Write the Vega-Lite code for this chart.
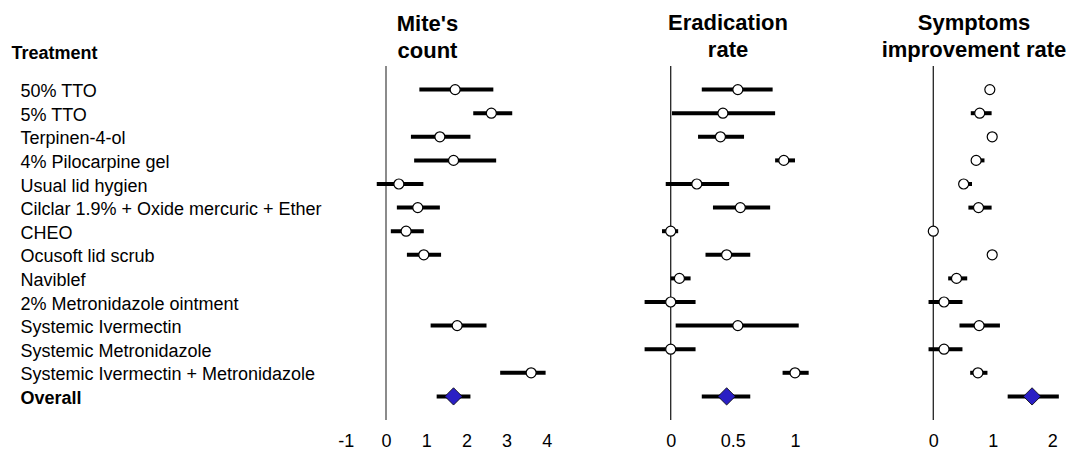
{
  "$schema": "https://vega.github.io/schema/vega-lite/v6.json",
  "padding": {"left": 11, "top": 11, "right": 0, "bottom": 0},
  "bounds": "flush",
  "spacing": 0,
  "config": {
    "font": "Liberation Sans",
    "view": {"stroke": null},
    "title": {"fontSize": 22, "fontWeight": "bold", "color": "black", "lineHeight": 27.4, "baseline": "alphabetic", "offset": 3.3, "anchor": "middle", "frame": "group"}
  },
  "data": {"values": [
    {"t": "50% TTO", "m": 1.72, "mlo": 0.83, "mhi": 2.67, "e": 0.54, "elo": 0.25, "ehi": 0.82, "s": 0.95, "slo": 0.9, "shi": 1.0},
    {"t": "5% TTO", "m": 2.62, "mlo": 2.17, "mhi": 3.14, "e": 0.42, "elo": 0.01, "ehi": 0.84, "s": 0.78, "slo": 0.63, "shi": 0.98},
    {"t": "Terpinen-4-ol", "m": 1.34, "mlo": 0.62, "mhi": 2.10, "e": 0.40, "elo": 0.22, "ehi": 0.59, "s": 0.99, "slo": 0.95, "shi": 1.0},
    {"t": "4% Pilocarpine gel", "m": 1.68, "mlo": 0.70, "mhi": 2.74, "e": 0.91, "elo": 0.84, "ehi": 1.0, "s": 0.72, "slo": 0.67, "shi": 0.86},
    {"t": "Usual lid hygien", "m": 0.32, "mlo": -0.23, "mhi": 0.93, "e": 0.21, "elo": -0.04, "ehi": 0.47, "s": 0.51, "slo": 0.45, "shi": 0.65},
    {"t": "Cilclar 1.9% + Oxide mercuric + Ether", "m": 0.79, "mlo": 0.27, "mhi": 1.34, "e": 0.56, "elo": 0.34, "ehi": 0.80, "s": 0.76, "slo": 0.59, "shi": 0.98},
    {"t": "CHEO", "m": 0.50, "mlo": 0.12, "mhi": 0.94, "e": 0.0, "elo": -0.07, "ehi": 0.06, "s": 0.0, "slo": 0.0, "shi": 0.0},
    {"t": "Ocusoft lid scrub", "m": 0.94, "mlo": 0.52, "mhi": 1.37, "e": 0.45, "elo": 0.28, "ehi": 0.64, "s": 0.99, "slo": 0.95, "shi": 1.0},
    {"t": "Naviblef", "m": null, "mlo": null, "mhi": null, "e": 0.07, "elo": 0.0, "ehi": 0.16, "s": 0.39, "slo": 0.25, "shi": 0.57},
    {"t": "2% Metronidazole ointment", "m": null, "mlo": null, "mhi": null, "e": 0.0, "elo": -0.21, "ehi": 0.20, "s": 0.18, "slo": -0.08, "shi": 0.49},
    {"t": "Systemic Ivermectin", "m": 1.77, "mlo": 1.11, "mhi": 2.50, "e": 0.54, "elo": 0.04, "ehi": 1.03, "s": 0.77, "slo": 0.44, "shi": 1.12},
    {"t": "Systemic Metronidazole", "m": null, "mlo": null, "mhi": null, "e": 0.0, "elo": -0.21, "ehi": 0.20, "s": 0.18, "slo": -0.08, "shi": 0.49},
    {"t": "Systemic Ivermectin + Metronidazole", "m": 3.61, "mlo": 2.84, "mhi": 3.97, "e": 1.0, "elo": 0.90, "ehi": 1.11, "s": 0.75, "slo": 0.62, "shi": 0.91},
    {"t": "Overall", "m": 1.68, "mlo": 1.26, "mhi": 2.10, "e": 0.45, "elo": 0.25, "ehi": 0.64, "s": 1.66, "slo": 1.25, "shi": 2.11}
  ]},
  "hconcat": [
    {
      "width": 262, "height": 354,
      "title": {"text": ["Mite's", "count"], "dx": -41.5, "offset": -18.7},
      "layer": [
        {
          "data": {"values": [{"ref": 0}]},
          "mark": {"type": "rule", "color": "#6e6e6e", "strokeWidth": 1.6},
          "encoding": {
            "x": {"field": "ref", "type": "quantitative",
              "scale": {"domain": [-1.194, 5.323], "nice": false, "zero": false},
              "axis": {"values": [-1, 0, 1, 2, 3, 4], "labelExpr": "'' + datum.value", "title": null, "domain": false, "ticks": false, "grid": false, "labelFontSize": 18, "labelColor": "black", "labelPadding": 21, "labelBaseline": "middle", "labelFlush": false, "labelOverlap": false}}
          }
        },
        {
          "transform": [{"filter": "isValid(datum.mlo)"}],
          "mark": {"type": "rule", "color": "black", "strokeWidth": 4},
          "encoding": {
            "x": {"field": "mlo", "type": "quantitative"},
            "x2": {"field": "mhi"},
            "y": {"field": "t", "type": "nominal",
              "scale": {"type": "point", "padding": 1, "domain": ["50% TTO", "5% TTO", "Terpinen-4-ol", "4% Pilocarpine gel", "Usual lid hygien", "Cilclar 1.9% + Oxide mercuric + Ether", "CHEO", "Ocusoft lid scrub", "Naviblef", "2% Metronidazole ointment", "Systemic Ivermectin", "Systemic Metronidazole", "Systemic Ivermectin + Metronidazole", "Overall"]},
              "axis": {"title": "Treatment", "titleAngle": 0, "titleX": -327, "titleY": -7.7, "titleAlign": "left", "titleBaseline": "alphabetic", "titleFontSize": 18, "titleFontWeight": "bold", "titleColor": "black",
                "labelAlign": "left", "labelPadding": 318, "labelFontSize": 18, "labelColor": "black", "labelBaseline": "middle", "labelOffset": 2, "labelLimit": 0,
                "labelFontWeight": {"condition": {"test": "datum.value === 'Overall'", "value": "bold"}, "value": "normal"},
                "ticks": false, "domain": false, "grid": false}}
          }
        },
        {
          "transform": [{"filter": "isValid(datum.m) && datum.t !== 'Overall'"}],
          "mark": {"type": "point", "shape": "circle", "filled": true, "fill": "white", "stroke": "black", "strokeWidth": 1.2, "size": 100, "opacity": 1},
          "encoding": {
            "x": {"field": "m", "type": "quantitative"},
            "y": {"field": "t", "type": "nominal", "scale": {"type": "point", "padding": 1, "domain": ["50% TTO", "5% TTO", "Terpinen-4-ol", "4% Pilocarpine gel", "Usual lid hygien", "Cilclar 1.9% + Oxide mercuric + Ether", "CHEO", "Ocusoft lid scrub", "Naviblef", "2% Metronidazole ointment", "Systemic Ivermectin", "Systemic Metronidazole", "Systemic Ivermectin + Metronidazole", "Overall"]}}
          }
        },
        {
          "transform": [{"filter": "datum.t === 'Overall'"}],
          "mark": {"type": "point", "shape": "diamond", "filled": true, "fill": "#2a1fc4", "stroke": "black", "strokeWidth": 0.8, "size": 300, "opacity": 1},
          "encoding": {
            "x": {"field": "m", "type": "quantitative"},
            "y": {"field": "t", "type": "nominal", "scale": {"type": "point", "padding": 1, "domain": ["50% TTO", "5% TTO", "Terpinen-4-ol", "4% Pilocarpine gel", "Usual lid hygien", "Cilclar 1.9% + Oxide mercuric + Ether", "CHEO", "Ocusoft lid scrub", "Naviblef", "2% Metronidazole ointment", "Systemic Ivermectin", "Systemic Metronidazole", "Systemic Ivermectin + Metronidazole", "Overall"]}}
          }
        }
      ]
    },
    {
      "width": 260, "height": 354,
      "title": {"text": ["Eradication", "rate"], "dx": -2},
      "layer": [
        {
          "data": {"values": [{"ref": 0}]},
          "mark": {"type": "rule", "color": "#222222", "strokeWidth": 1.3},
          "encoding": {
            "x": {"field": "ref", "type": "quantitative",
              "scale": {"domain": [-0.5688, 1.5229], "nice": false, "zero": false},
              "axis": {"values": [0, 0.5, 1], "labelExpr": "'' + datum.value", "title": null, "domain": false, "ticks": false, "grid": false, "labelFontSize": 18, "labelColor": "black", "labelPadding": 21, "labelBaseline": "middle", "labelFlush": false, "labelOverlap": false}}
          }
        },
        {
          "mark": {"type": "rule", "color": "black", "strokeWidth": 4},
          "encoding": {
            "x": {"field": "elo", "type": "quantitative"},
            "x2": {"field": "ehi"},
            "y": {"field": "t", "type": "nominal", "axis": null, "scale": {"type": "point", "padding": 1, "domain": ["50% TTO", "5% TTO", "Terpinen-4-ol", "4% Pilocarpine gel", "Usual lid hygien", "Cilclar 1.9% + Oxide mercuric + Ether", "CHEO", "Ocusoft lid scrub", "Naviblef", "2% Metronidazole ointment", "Systemic Ivermectin", "Systemic Metronidazole", "Systemic Ivermectin + Metronidazole", "Overall"]}}
          }
        },
        {
          "transform": [{"filter": "datum.t !== 'Overall'"}],
          "mark": {"type": "point", "shape": "circle", "filled": true, "fill": "white", "stroke": "black", "strokeWidth": 1.2, "size": 100, "opacity": 1},
          "encoding": {
            "x": {"field": "e", "type": "quantitative"},
            "y": {"field": "t", "type": "nominal", "axis": null, "scale": {"type": "point", "padding": 1, "domain": ["50% TTO", "5% TTO", "Terpinen-4-ol", "4% Pilocarpine gel", "Usual lid hygien", "Cilclar 1.9% + Oxide mercuric + Ether", "CHEO", "Ocusoft lid scrub", "Naviblef", "2% Metronidazole ointment", "Systemic Ivermectin", "Systemic Metronidazole", "Systemic Ivermectin + Metronidazole", "Overall"]}}
          }
        },
        {
          "transform": [{"filter": "datum.t === 'Overall'"}],
          "mark": {"type": "point", "shape": "diamond", "filled": true, "fill": "#2a1fc4", "stroke": "black", "strokeWidth": 0.8, "size": 300, "opacity": 1},
          "encoding": {
            "x": {"field": "e", "type": "quantitative"},
            "y": {"field": "t", "type": "nominal", "axis": null, "scale": {"type": "point", "padding": 1, "domain": ["50% TTO", "5% TTO", "Terpinen-4-ol", "4% Pilocarpine gel", "Usual lid hygien", "Cilclar 1.9% + Oxide mercuric + Ether", "CHEO", "Ocusoft lid scrub", "Naviblef", "2% Metronidazole ointment", "Systemic Ivermectin", "Systemic Metronidazole", "Systemic Ivermectin + Metronidazole", "Overall"]}}
          }
        }
      ]
    },
    {
      "width": 210, "height": 354,
      "title": {"text": ["Symptoms", "improvement rate"], "dx": 9},
      "layer": [
        {
          "data": {"values": [{"ref": 0}]},
          "mark": {"type": "rule", "color": "#222222", "strokeWidth": 1.3},
          "encoding": {
            "x": {"field": "ref", "type": "quantitative",
              "scale": {"domain": [-1.2319, 2.2975], "nice": false, "zero": false},
              "axis": {"values": [0, 1, 2], "labelExpr": "'' + datum.value", "title": null, "domain": false, "ticks": false, "grid": false, "labelFontSize": 18, "labelColor": "black", "labelPadding": 21, "labelBaseline": "middle", "labelFlush": false, "labelOverlap": false}}
          }
        },
        {
          "mark": {"type": "rule", "color": "black", "strokeWidth": 4},
          "encoding": {
            "x": {"field": "slo", "type": "quantitative"},
            "x2": {"field": "shi"},
            "y": {"field": "t", "type": "nominal", "axis": null, "scale": {"type": "point", "padding": 1, "domain": ["50% TTO", "5% TTO", "Terpinen-4-ol", "4% Pilocarpine gel", "Usual lid hygien", "Cilclar 1.9% + Oxide mercuric + Ether", "CHEO", "Ocusoft lid scrub", "Naviblef", "2% Metronidazole ointment", "Systemic Ivermectin", "Systemic Metronidazole", "Systemic Ivermectin + Metronidazole", "Overall"]}}
          }
        },
        {
          "transform": [{"filter": "datum.t !== 'Overall'"}],
          "mark": {"type": "point", "shape": "circle", "filled": true, "fill": "white", "stroke": "black", "strokeWidth": 1.2, "size": 100, "opacity": 1},
          "encoding": {
            "x": {"field": "s", "type": "quantitative"},
            "y": {"field": "t", "type": "nominal", "axis": null, "scale": {"type": "point", "padding": 1, "domain": ["50% TTO", "5% TTO", "Terpinen-4-ol", "4% Pilocarpine gel", "Usual lid hygien", "Cilclar 1.9% + Oxide mercuric + Ether", "CHEO", "Ocusoft lid scrub", "Naviblef", "2% Metronidazole ointment", "Systemic Ivermectin", "Systemic Metronidazole", "Systemic Ivermectin + Metronidazole", "Overall"]}}
          }
        },
        {
          "transform": [{"filter": "datum.t === 'Overall'"}],
          "mark": {"type": "point", "shape": "diamond", "filled": true, "fill": "#2a1fc4", "stroke": "black", "strokeWidth": 0.8, "size": 300, "opacity": 1},
          "encoding": {
            "x": {"field": "s", "type": "quantitative"},
            "y": {"field": "t", "type": "nominal", "axis": null, "scale": {"type": "point", "padding": 1, "domain": ["50% TTO", "5% TTO", "Terpinen-4-ol", "4% Pilocarpine gel", "Usual lid hygien", "Cilclar 1.9% + Oxide mercuric + Ether", "CHEO", "Ocusoft lid scrub", "Naviblef", "2% Metronidazole ointment", "Systemic Ivermectin", "Systemic Metronidazole", "Systemic Ivermectin + Metronidazole", "Overall"]}}
          }
        }
      ]
    }
  ]
}
